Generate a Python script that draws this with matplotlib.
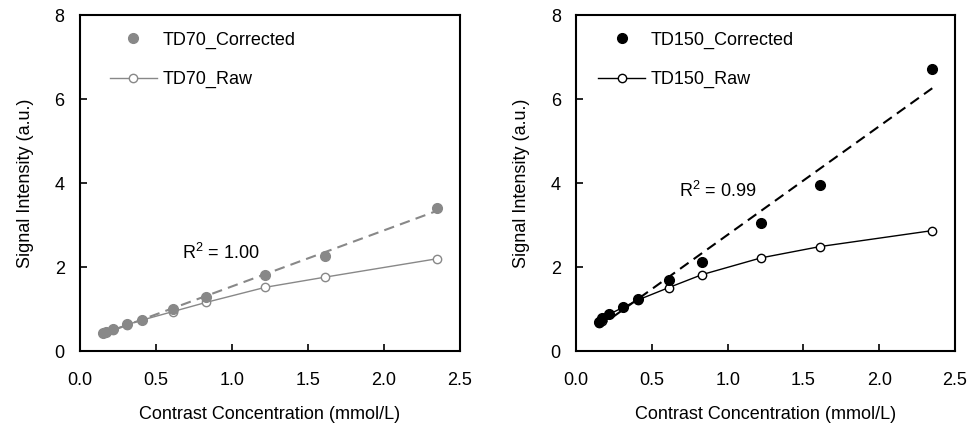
import numpy as np
import matplotlib
matplotlib.use("Agg")
import matplotlib.pyplot as plt
from matplotlib.lines import Line2D

plt.rcParams['font.family'] = ['Liberation Sans', 'DejaVu Sans']
plt.rcParams['font.size'] = 13
plt.rcParams['mathtext.fontset'] = 'custom'
plt.rcParams['mathtext.rm'] = 'Liberation Sans'

# contrast concentration (mmol/L)
conc = [0.15, 0.17, 0.22, 0.31, 0.41, 0.61, 0.83, 1.22, 1.61, 2.35]

td70_corrected = [0.42, 0.46, 0.52, 0.64, 0.74, 1.00, 1.30, 1.82, 2.26, 3.42]
td70_raw = [0.42, 0.45, 0.51, 0.63, 0.74, 0.94, 1.16, 1.52, 1.76, 2.20]

td150_corrected = [0.70, 0.78, 0.89, 1.05, 1.25, 1.69, 2.13, 3.04, 3.96, 6.73]
td150_raw = [0.68, 0.72, 0.88, 1.04, 1.22, 1.51, 1.82, 2.22, 2.49, 2.87]

panels = [
    dict(name="TD70", corr=td70_corrected, raw=td70_raw, color="#888888",
         r2="R$^2$ = 1.00", r2_pos=(0.67, 2.34)),
    dict(name="TD150", corr=td150_corrected, raw=td150_raw, color="black",
         r2="R$^2$ = 0.99", r2_pos=(0.68, 3.82)),
]

fig = plt.figure(figsize=(9.78, 4.23), dpi=100)
axes_rects = [[0.0818, 0.170, 0.3885, 0.794], [0.589, 0.170, 0.3875, 0.794]]
legend_x = [30 / 380, 22 / 379]

for p, rect, lx in zip(panels, axes_rects, legend_x):
    ax = fig.add_axes(rect)
    c = p["color"]
    x = np.array(conc)
    # raw curve
    ax.plot(x, p["raw"], color=c, lw=1.0, marker='o', ms=6, mfc='white',
            mec=c, mew=1.0, zorder=2)
    # linear fit on corrected data
    k, b = np.polyfit(x, p["corr"], 1)
    xf = np.array([x.min(), x.max()])
    ax.plot(xf, k * xf + b, color=c, lw=1.5, ls=(0, (5, 3)), zorder=3)
    ax.plot(x, p["corr"], ls='none', marker='o', ms=7, color=c, zorder=4)

    ax.text(p["r2_pos"][0], p["r2_pos"][1], p["r2"], fontsize=13, va='center')

    ax.set_xlim(0, 2.5)
    ax.set_ylim(0, 8)
    ax.set_xticks(np.arange(0, 2.51, 0.5))
    ax.set_xticklabels(["0.0", "0.5", "1.0", "1.5", "2.0", "2.5"])
    ax.set_yticks([0, 2, 4, 6, 8])
    ax.tick_params(axis='x', direction='in', length=5, width=1.2, pad=15)
    ax.tick_params(axis='y', direction='in', length=5, width=1.2, pad=11)
    for s in ax.spines.values():
        s.set_linewidth(1.5)
    ax.set_xlabel("Contrast Concentration (mmol/L)", labelpad=12)
    ax.set_ylabel("Signal Intensity (a.u.)", labelpad=15)

    handles = [
        Line2D([], [], ls='none', marker='o', ms=7, color=c),
        Line2D([], [], color=c, lw=1.0, marker='o', ms=6, mfc='white', mec=c),
    ]
    ax.legend(handles, [p["name"] + "_Corrected", p["name"] + "_Raw"],
              loc='upper left', bbox_to_anchor=(lx, 0.952), frameon=False,
              borderpad=0, borderaxespad=0, handlelength=2.6,
              handletextpad=0.3, labelspacing=1.25, fontsize=13)

fig.savefig("out.png", dpi=100)
